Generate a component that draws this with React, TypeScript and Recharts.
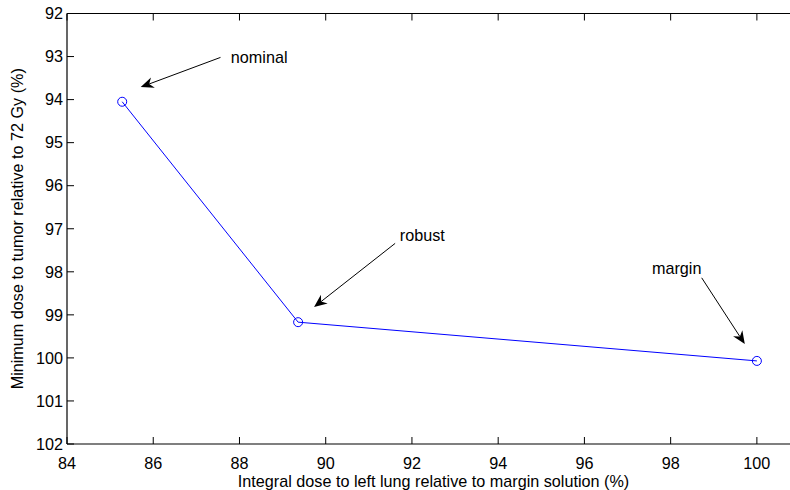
// Pareto-style trade-off: integral lung dose vs. minimum tumor dose,
// with MATLAB-like inward ticks and arrow annotations.

import { LineChart, Line, XAxis, YAxis, ReferenceLine, ReferenceDot } from 'recharts'

const lungDose = [85.28, 89.36, 100.0]
const tumorDose = [94.05, 99.17, 100.07]

const xTicks = [84, 86, 88, 90, 92, 94, 96, 98, 100]
const yTicks = [92, 93, 94, 95, 96, 97, 98, 99, 100, 101, 102]

// annotation arrows: tail -> head, in data units
const arrowNames = ['nominal', 'robust', 'margin']
const arrowTail = [
  { x: 87.56, y: 93.02 },
  { x: 91.61, y: 97.34 },
  { x: 98.72, y: 98.14 },
]
const arrowHead = [
  { x: 85.71, y: 93.71 },
  { x: 89.73, y: 98.82 },
  { x: 99.72, y: 99.68 },
]
const labelPos = [
  { x: 87.8, y: 93.02, anchor: 'start' },
  { x: 91.72, y: 97.15, anchor: 'start' },
  { x: 98.14, y: 97.92, anchor: 'middle' },
]

const data = lungDose.map((x, i) => ({ x, y: tumorDose[i] }))

const FS = 16.2

function Arrow(props: any) {
  const { x1, y1, x2, y2 } = props
  const dx = x2 - x1
  const dy = y2 - y1
  const len = Math.hypot(dx, dy) || 1
  const ux = dx / len
  const uy = dy / len
  const px = -uy
  const py = ux
  const headLen = 13
  const half = 5.5
  const notch = 9
  const bx = x2 - ux * headLen
  const by = y2 - uy * headLen
  const nx = x2 - ux * notch
  const ny = y2 - uy * notch
  const pts = [
    [x2, y2],
    [bx + px * half, by + py * half],
    [nx, ny],
    [bx - px * half, by - py * half],
  ]
    .map((p) => p.join(','))
    .join(' ')
  return (
    <g>
      <line x1={x1} y1={y1} x2={nx} y2={ny} stroke="#000" strokeWidth={1} />
      <polygon points={pts} fill="#000" />
    </g>
  )
}

export default function App() {
  return (
    <div
      style={{
        position: 'absolute',
        left: 0,
        top: 0,
        width: 790,
        height: 490,
        overflow: 'hidden',
        background: '#fff',
        fontFamily: '"Liberation Sans", Arial, sans-serif',
      }}
    >
      <LineChart width={810} height={490} data={data} margin={{ top: 12.5, right: 10, bottom: 0, left: 0 }}>
        <XAxis
          dataKey="x"
          type="number"
          domain={[84, 101]}
          ticks={xTicks}
          height={46}
          tickSize={-7}
          tickMargin={20}
          tick={{ fontSize: FS, fill: '#000' }}
          axisLine={{ stroke: '#000', strokeWidth: 1.2 }}
          tickLine={{ stroke: '#000' }}
          label={{
            value: 'Integral dose to left lung relative to margin solution (%)',
            position: 'insideBottom',
            offset: 3,
            fontSize: FS,
            fill: '#000',
          }}
        />
        <XAxis
          xAxisId="top"
          orientation="top"
          dataKey="x"
          type="number"
          domain={[84, 101]}
          ticks={xTicks}
          height={1}
          tickSize={-7}
          tick={() => <g />}
          axisLine={{ stroke: '#000', strokeWidth: 1.2 }}
          tickLine={{ stroke: '#000' }}
        />
        <YAxis
          dataKey="y"
          type="number"
          reversed
          domain={[92, 102]}
          ticks={yTicks}
          width={67}
          tickSize={-7}
          tickMargin={11}
          tick={{ fontSize: FS, fill: '#000' }}
          axisLine={{ stroke: '#000', strokeWidth: 1.2 }}
          tickLine={{ stroke: '#000' }}
          label={{
            value: 'Minimum dose to tumor relative to 72 Gy (%)',
            angle: -90,
            position: 'center',
            dx: -16.5,
            fontSize: FS,
            fill: '#000',
          }}
        />
        <Line
          dataKey="y"
          type="linear"
          stroke="#0000ff"
          strokeWidth={1}
          dot={{ r: 4.5, stroke: '#0000ff', strokeWidth: 1, fill: 'none' }}
          isAnimationActive={false}
        />
        <Line
          xAxisId="top"
          dataKey="y"
          stroke="none"
          dot={false}
          activeDot={false}
          isAnimationActive={false}
        />
        {arrowNames.map((name, i) => (
          <ReferenceLine
            key={'a' + name}
            segment={[arrowTail[i], arrowHead[i]]}
            shape={Arrow}
          />
        ))}
        {arrowNames.map((name, i) => (
          <ReferenceDot
            key={'t' + name}
            x={labelPos[i].x}
            y={labelPos[i].y}
            r={0}
            shape={(p: any) => (
              <text x={p.cx} y={p.cy} dy="0.35em" textAnchor={labelPos[i].anchor as any} fontSize={FS} fill="#000">
                {name}
              </text>
            )}
          />
        ))}
      </LineChart>
    </div>
  )
}
